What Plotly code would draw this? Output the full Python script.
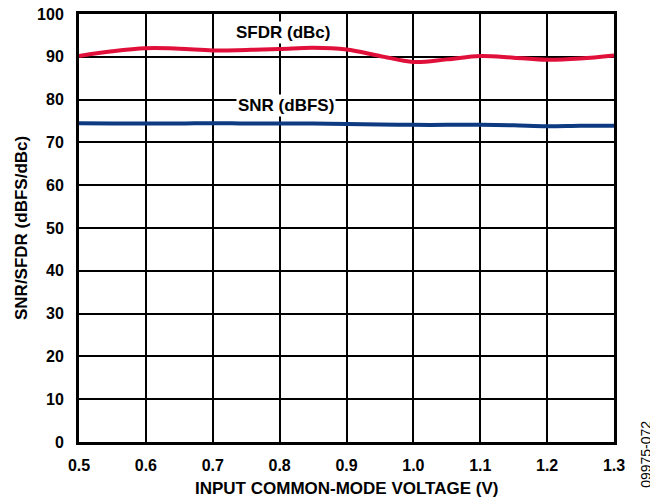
import plotly.graph_objects as go

# input common-mode voltage (V)
vcm = [0.5, 0.55, 0.6, 0.65, 0.7, 0.75, 0.8, 0.85, 0.9, 0.95,
       1.0, 1.05, 1.1, 1.15, 1.2, 1.25, 1.3]
sfdr_dbc = [90.2, 91.3, 92.0, 91.9, 91.5, 91.6, 91.8, 92.1, 91.7, 90.2,
            88.8, 89.4, 90.2, 89.8, 89.3, 89.6, 90.3]
snr_dbfs = [74.5, 74.4, 74.4, 74.4, 74.5, 74.4, 74.4, 74.4, 74.3, 74.2,
            74.1, 74.1, 74.1, 74.0, 73.8, 73.9, 73.9]

x_ticks = [0.5, 0.6, 0.7, 0.8, 0.9, 1.0, 1.1, 1.2, 1.3]
y_ticks = list(range(0, 101, 10))

FONT = "Liberation Sans, Arial, sans-serif"

fig = go.Figure()
fig.add_trace(go.Scatter(
    x=vcm, y=sfdr_dbc, mode="lines", name="SFDR (dBc)",
    line=dict(color="#e0103a", width=4, shape="spline", smoothing=1.0),
))
fig.add_trace(go.Scatter(
    x=vcm, y=snr_dbfs, mode="lines", name="SNR (dBFS)",
    line=dict(color="#0d3a80", width=4, shape="spline", smoothing=1.0),
))

# curve labels
fig.add_annotation(x=0.805, y=95.6, text="<b>SFDR (dBc)</b>", showarrow=False,
                   font=dict(size=17, family=FONT, color="black"),
                   bgcolor="white", borderpad=1)
fig.add_annotation(x=0.81, y=78.6, text="<b>SNR (dBFS)</b>", showarrow=False,
                   font=dict(size=17, family=FONT, color="black"),
                   bgcolor="white", borderpad=1)

# axis titles
fig.add_annotation(x=0.5, xref="paper", y=-0.1086, yref="paper",
                   xanchor="center", yanchor="middle",
                   text="<b>INPUT COMMON-MODE VOLTAGE (V)</b>", showarrow=False,
                   font=dict(size=17, family=FONT, color="black"))
fig.add_annotation(x=-0.1084, xref="paper", y=0.5, yref="paper",
                   xanchor="center", yanchor="middle",
                   text="<b>SNR/SFDR (dBFS/dBc)</b>", textangle=-90, showarrow=False,
                   font=dict(size=17, family=FONT, color="black"))

# figure id
fig.add_annotation(x=1.0, xref="paper", xshift=42, y=-0.030, yref="paper",
                   xanchor="right", yanchor="middle",
                   text="09975-072", textangle=-90, showarrow=False,
                   font=dict(size=14, family=FONT, color="black"))

fig.update_layout(
    width=650, height=494,
    margin=dict(l=71, r=44, t=6, b=60),
    plot_bgcolor="white", paper_bgcolor="white",
    showlegend=False,
    font=dict(family=FONT, color="black"),
)
fig.update_xaxes(
    range=[0.5, 1.3], tickvals=x_ticks, ticktext=[f"<b>{v:.1f}</b>" for v in x_ticks],
    tickfont=dict(size=16), showgrid=True, gridcolor="black", gridwidth=1.6,
    showline=True, linecolor="black", linewidth=3, mirror=True, zeroline=False,
    ticks="", ticklabelstandoff=7, automargin=False, ticklabeloverflow="allow",
)
fig.update_yaxes(
    range=[0, 100], tickvals=y_ticks, ticktext=[f"<b>{v}</b>" for v in y_ticks],
    tickfont=dict(size=16), showgrid=True, gridcolor="black", gridwidth=1.6,
    showline=True, linecolor="black", linewidth=3, mirror=True, zeroline=False,
    ticks="", ticklabelstandoff=9, automargin=False, ticklabeloverflow="allow",
)

fig.write_html("out.html")
